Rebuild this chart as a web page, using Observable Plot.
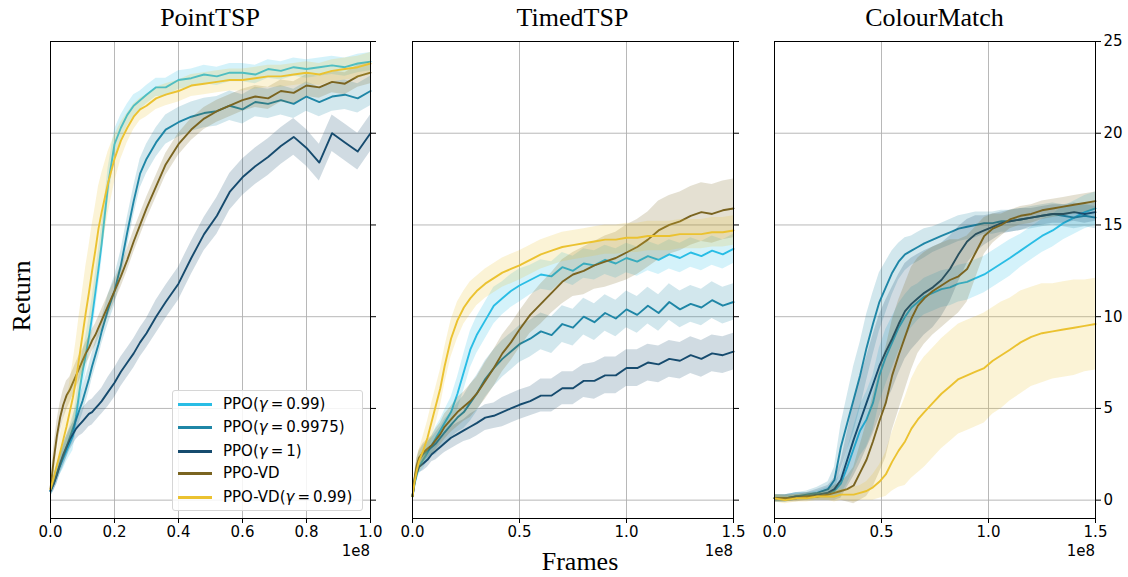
<!DOCTYPE html>
<html>
<head>
<meta charset="utf-8">
<script src="https://cdn.jsdelivr.net/npm/d3@7"></script>
<script src="https://cdn.jsdelivr.net/npm/@observablehq/plot@0.6"></script>
<style>
  html, body { margin: 0; padding: 0; background: white; }
  #wrap { position: relative; width: 1128px; height: 577px; overflow: hidden; background: white; }
  .panel { position: absolute; top: 0; }
  .ttl { position: absolute; font-family: "Liberation Serif", serif; font-size: 26px; line-height: 26px; white-space: nowrap; color: #000; }
  .e8 { position: absolute; font-family: "DejaVu Sans", sans-serif; font-size: 15px; line-height: 17px; color: #000; }
  #legend { position: absolute; left: 172px; top: 390px; width: 189px; height: 119px; border: 1px solid #d6d6d6; border-radius: 3px; background: rgba(255,255,255,0.85); font-family: "DejaVu Sans", sans-serif; font-size: 15px; }
  .row { position: absolute; left: 0; height: 18px; line-height: 18px; white-space: nowrap; }
  .sw { position: absolute; left: 5px; top: 8px; width: 34px; height: 3px; }
  .lt { position: absolute; left: 50px; top: 0; }
  .eq { padding: 0 3px; }
</style>
</head>
<body>
<div id="wrap"></div>
<script>
// ---------- data (x in units of 1e8 frames) ----------
const seriesNames = ["PPO(γ = 0.99)", "PPO(γ = 0.9975)", "PPO(γ = 1)", "PPO-VD", "PPO-VD(γ = 0.99)"];
const seriesColors = ["#29bde5", "#1f86a6", "#164b6e", "#7a6420", "#ebc230"];
const panelTitles = ["PointTSP", "TimedTSP", "ColourMatch"];
const xTicks1 = [0, 0.2, 0.4, 0.6, 0.8, 1.0];
const xTicks23 = [0, 0.5, 1.0, 1.5];
const yTicks = [0, 5, 10, 15, 20, 25];

// PointTSP
const x1 = [0,.01,.02,.03,.04,.05,.06,.07,.08,.09,.10,.11,.12,.13,.14,.15,.16,.18,.20,.22,.24,.26,.28,.30,.33,.36,.40,.44,.48,.52,.56,.60,.64,.68,.72,.76,.80,.84,.88,.92,.96,1.00];
const p1Cyan   = [0.5,1.0,1.5,1.9,2.3,2.7,3.1,3.5,4.6,5.9,7.0,7.9,8.9,10.0,11.3,12.6,14.0,17.2,19.4,20.3,21.0,21.5,21.8,22.1,22.5,22.5,22.9,23.0,23.2,23.1,23.3,23.3,23.2,23.5,23.4,23.6,23.5,23.6,23.7,23.6,23.8,23.9];
const p1Teal   = [0.5,0.9,1.4,1.9,2.4,2.9,3.4,3.9,4.4,4.9,5.4,6.0,6.6,7.3,7.9,8.5,9.2,10.4,11.4,12.8,14.6,16.3,17.8,18.6,19.5,20.2,20.6,20.9,21.1,21.2,21.5,21.3,21.7,21.6,21.8,21.6,22.0,21.7,22.0,22.1,21.9,22.3];
const p1Dark   = [0.5,0.9,1.4,2.0,2.5,2.9,3.3,3.6,3.9,4.1,4.3,4.5,4.7,4.8,5.0,5.2,5.4,5.9,6.4,7.0,7.5,8.0,8.6,9.1,10.0,10.8,11.8,13.2,14.5,15.5,16.8,17.6,18.2,18.7,19.3,19.8,19.2,18.4,20.0,19.5,19.0,20.0];
const p1Olive  = [0.6,2.2,3.5,4.5,5.2,5.7,6.0,6.4,6.8,7.2,7.6,8.0,8.3,8.7,9.0,9.4,9.8,10.6,11.4,12.2,13.1,14.1,15.0,15.9,17.1,18.3,19.4,20.2,20.8,21.2,21.5,21.8,22.0,21.9,22.3,22.2,22.6,22.5,22.8,22.7,23.1,23.3];
const p1Yellow = [0.6,1.2,1.9,2.6,3.3,4.0,4.8,5.6,6.6,7.8,9.0,10.2,11.3,12.5,13.6,14.8,15.7,17.3,18.6,19.6,20.3,20.9,21.3,21.5,21.9,22.1,22.3,22.6,22.7,22.8,22.9,22.9,23.0,23.1,23.1,23.2,23.3,23.2,23.4,23.5,23.6,23.8];
const p1CyanSd   = [0.3,0.4,0.5,0.5,0.6,0.6,0.7,0.8,0.9,1.0,1.0,1.0,1.0,1.0,1.0,1.0,1.0,0.9,0.8,0.7,0.6,0.6,0.5,0.5,0.5,0.5,0.5,0.5,0.5,0.5,0.5,0.5,0.5,0.5,0.5,0.5,0.5,0.5,0.5,0.5,0.5,0.5];
const p1TealSd   = [0.3,0.4,0.5,0.5,0.6,0.6,0.6,0.7,0.7,0.7,0.7,0.7,0.7,0.7,0.7,0.7,0.7,0.8,0.8,0.8,0.8,0.8,0.8,0.8,0.8,0.8,0.8,0.8,0.8,0.8,0.8,0.8,0.8,0.8,0.8,0.8,0.8,0.8,0.8,0.8,0.8,0.8];
const p1DarkSd   = [0.3,0.4,0.5,0.5,0.6,0.6,0.6,0.6,0.6,0.6,0.7,0.7,0.7,0.7,0.7,0.7,0.7,0.8,0.8,0.8,0.8,0.8,0.8,0.8,0.9,0.9,0.9,0.9,0.9,1.0,1.0,1.0,1.0,1.0,1.0,1.0,1.0,1.0,1.0,1.0,1.0,1.0];
const p1OliveSd  = [0.3,0.7,0.8,0.8,0.8,0.8,0.7,0.7,0.7,0.7,0.6,0.6,0.6,0.6,0.6,0.6,0.6,0.6,0.6,0.6,0.6,0.6,0.6,0.6,0.6,0.6,0.6,0.6,0.6,0.6,0.6,0.6,0.6,0.6,0.6,0.6,0.6,0.6,0.6,0.6,0.6,0.6];
const p1YellowSd = [0.3,0.5,0.7,0.9,1.1,1.3,1.6,1.9,2.1,2.3,2.4,2.5,2.5,2.5,2.4,2.3,2.1,1.7,1.3,1.0,0.8,0.7,0.6,0.6,0.6,0.6,0.6,0.6,0.6,0.6,0.6,0.6,0.6,0.6,0.6,0.6,0.6,0.6,0.6,0.6,0.6,0.6];

// TimedTSP
const x2 = [0,.01,.02,.03,.05,.07,.09,.11,.13,.15,.18,.21,.24,.27,.30,.34,.38,.42,.46,.50,.55,.60,.65,.70,.75,.80,.85,.90,.95,1.00,1.05,1.10,1.15,1.20,1.25,1.30,1.35,1.40,1.45,1.50];
const p2Cyan   = [0.2,0.9,1.4,1.8,2.2,2.6,3.0,3.4,3.8,4.2,4.8,5.8,7.0,8.2,9.0,9.8,10.6,11.0,11.4,11.7,12.0,12.3,12.2,12.7,12.5,12.9,12.8,13.1,12.9,13.2,13.0,13.3,13.1,13.4,13.2,13.5,13.3,13.6,13.4,13.7];
const p2Teal   = [0.2,1.1,1.8,2.2,2.5,2.7,2.9,3.1,3.4,3.7,4.1,4.5,4.8,5.3,5.8,6.6,7.2,7.7,8.1,8.5,8.8,9.2,9.0,9.6,9.4,10.0,9.7,10.2,9.9,10.4,10.1,10.6,10.2,10.8,10.4,10.7,10.5,10.9,10.6,10.8];
const p2Dark   = [0.2,1.0,1.5,1.8,2.0,2.2,2.5,2.7,2.9,3.1,3.4,3.6,3.8,4.0,4.2,4.5,4.6,4.8,5.0,5.2,5.4,5.7,5.7,6.1,6.1,6.5,6.5,6.8,6.8,7.2,7.2,7.5,7.4,7.7,7.6,7.9,7.7,8.0,7.9,8.1];
const p2Olive  = [0.2,1.2,1.9,2.3,2.6,2.8,3.0,3.3,3.6,4.0,4.4,4.8,5.1,5.4,5.8,6.5,7.2,8.0,8.6,9.3,10.1,10.7,11.3,11.9,12.3,12.5,12.8,13.0,13.2,13.5,13.8,14.2,14.7,15.0,15.2,15.5,15.7,15.6,15.8,15.9];
const p2Yellow = [0.2,1.0,1.6,2.1,2.7,3.4,4.3,5.2,6.1,7.3,8.8,9.8,10.5,11.0,11.4,11.8,12.1,12.4,12.6,12.8,13.1,13.4,13.6,13.8,13.9,14.0,14.1,14.2,14.2,14.3,14.3,14.4,14.4,14.4,14.5,14.5,14.5,14.6,14.6,14.7];
const p2CyanSd   = [0.1,0.3,0.4,0.4,0.5,0.5,0.5,0.6,0.6,0.7,0.8,0.9,1.0,1.0,1.0,1.0,1.0,0.9,0.9,0.9,0.8,0.8,0.8,0.8,0.8,0.8,0.8,0.8,0.8,0.8,0.8,0.8,0.8,0.8,0.8,0.8,0.8,0.8,0.8,0.8];
const p2TealSd   = [0.1,0.3,0.4,0.4,0.5,0.5,0.5,0.6,0.6,0.7,0.7,0.8,0.9,1.0,1.0,1.0,1.0,1.0,1.0,1.0,1.0,1.0,1.0,1.0,1.0,1.0,1.0,1.0,1.0,1.0,1.0,1.0,1.0,1.0,1.0,1.0,1.0,1.0,1.0,1.0];
const p2DarkSd   = [0.1,0.2,0.3,0.3,0.4,0.4,0.4,0.5,0.5,0.5,0.6,0.6,0.6,0.7,0.7,0.7,0.7,0.8,0.8,0.8,0.8,0.9,0.9,0.9,0.9,0.9,1.0,1.0,1.0,1.0,1.0,1.0,1.0,1.0,1.0,1.0,1.0,1.0,1.0,1.0];
const p2OliveSd  = [0.1,0.3,0.4,0.4,0.5,0.5,0.5,0.6,0.6,0.7,0.7,0.8,0.8,0.9,0.9,1.0,1.0,1.0,1.0,1.0,1.0,1.1,1.1,1.2,1.2,1.3,1.3,1.4,1.4,1.5,1.5,1.5,1.6,1.6,1.6,1.6,1.6,1.6,1.6,1.6];
const p2YellowSd = [0.1,0.3,0.5,0.6,0.8,0.9,1.0,1.0,1.0,1.0,1.0,1.0,0.9,0.9,0.8,0.8,0.8,0.8,0.8,0.8,0.8,0.8,0.8,0.8,0.8,0.8,0.8,0.8,0.8,0.8,0.8,0.8,0.8,0.8,0.8,0.8,0.8,0.8,0.8,0.8];

// ColourMatch
const x3 = [0,.05,.10,.15,.20,.25,.28,.31,.34,.37,.40,.43,.46,.49,.52,.55,.58,.61,.64,.67,.70,.74,.78,.82,.86,.90,.94,.98,1.02,1.06,1.10,1.15,1.20,1.25,1.30,1.35,1.40,1.45,1.50];
const p3Cyan   = [0.1,0.1,0.2,0.2,0.3,0.4,0.5,0.9,1.8,2.8,3.8,4.4,5.3,6.8,7.8,8.6,9.4,10.0,10.5,10.8,11.1,11.3,11.5,11.6,11.8,11.9,12.1,12.3,12.6,12.9,13.2,13.6,14.0,14.4,14.7,15.1,15.4,15.7,15.9];
const p3Teal   = [0.1,0.1,0.2,0.3,0.4,0.6,1.1,2.9,4.2,5.5,6.8,8.3,9.6,10.8,11.6,12.4,13.0,13.4,13.6,13.8,14.0,14.2,14.4,14.6,14.8,14.9,15.0,15.1,15.1,15.2,15.2,15.3,15.4,15.5,15.6,15.5,15.4,15.5,15.4];
const p3Dark   = [0.1,0.1,0.2,0.2,0.3,0.4,0.6,1.1,2.2,3.3,4.3,5.3,6.3,7.3,8.1,8.8,9.6,10.3,10.7,11.0,11.3,11.6,12.0,12.6,13.4,14.1,14.5,14.7,14.9,15.1,15.2,15.3,15.4,15.5,15.6,15.6,15.7,15.6,15.7];
const p3Olive  = [0.1,0.1,0.1,0.2,0.2,0.3,0.4,0.5,0.6,0.8,1.5,2.2,3.2,4.3,5.3,6.8,7.9,8.9,9.9,10.6,11.0,11.4,11.7,12.0,12.2,12.6,13.5,14.4,14.8,15.0,15.3,15.5,15.6,15.8,15.9,16.0,16.1,16.2,16.3];
const p3Yellow = [0.1,0.0,0.1,0.1,0.2,0.2,0.2,0.3,0.3,0.3,0.4,0.5,0.7,1.0,1.4,2.1,2.7,3.2,3.9,4.4,4.8,5.3,5.8,6.2,6.6,6.8,7.0,7.2,7.6,7.9,8.2,8.6,8.9,9.1,9.2,9.3,9.4,9.5,9.6];
const p3CyanSd   = [0.2,0.2,0.2,0.2,0.2,0.3,0.4,0.6,0.9,1.2,1.4,1.5,1.5,1.5,1.5,1.4,1.3,1.2,1.1,1.0,1.0,1.0,1.0,1.0,1.0,1.0,1.0,1.0,1.0,1.0,1.0,0.9,0.9,0.9,0.9,0.9,0.9,0.9,0.9];
const p3TealSd   = [0.2,0.2,0.2,0.2,0.3,0.4,0.7,1.2,1.5,1.8,1.8,1.8,1.7,1.6,1.4,1.2,1.0,0.9,0.8,0.8,0.8,0.7,0.7,0.7,0.7,0.7,0.7,0.6,0.6,0.6,0.6,0.6,0.6,0.6,0.6,0.6,0.6,0.6,0.6];
const p3DarkSd   = [0.2,0.2,0.2,0.2,0.3,0.4,0.6,1.0,1.5,2.0,2.3,2.5,2.7,2.8,2.8,2.8,2.7,2.6,2.5,2.4,2.3,2.2,2.0,1.8,1.5,1.2,1.0,0.8,0.7,0.6,0.6,0.6,0.5,0.5,0.5,0.5,0.5,0.5,0.5];
const p3OliveSd  = [0.2,0.2,0.2,0.2,0.2,0.3,0.4,0.5,0.7,1.0,1.5,2.0,2.5,2.8,3.0,3.0,3.0,2.9,2.8,2.6,2.5,2.4,2.3,2.2,2.0,1.8,1.4,1.0,0.8,0.6,0.5,0.5,0.5,0.5,0.5,0.5,0.5,0.5,0.5];
const p3YellowSd = [0.2,0.2,0.2,0.2,0.2,0.2,0.3,0.3,0.3,0.4,0.4,0.5,0.7,0.9,1.2,1.6,2.0,2.4,2.7,2.9,3.0,3.0,3.0,3.0,3.0,3.0,3.0,3.0,2.9,2.9,2.8,2.8,2.7,2.7,2.6,2.6,2.6,2.5,2.5];

// ---------- build tables ----------
function table(x, means, sds) {
  const rows = [];
  means.forEach((m, k) => {
    const n = Math.min(x.length, m.length, sds[k].length);
    for (let i = 0; i < n; i++) rows.push({s: seriesNames[k], x: x[i], y: m[i], lo: m[i] - sds[k][i], hi: m[i] + sds[k][i]});
  });
  return rows;
}
const panels = [
  {title: panelTitles[0], rows: table(x1, [p1Cyan, p1Teal, p1Dark, p1Olive, p1Yellow], [p1CyanSd, p1TealSd, p1DarkSd, p1OliveSd, p1YellowSd]),
   xmax: 1.0, ticks: xTicks1, left: 0, width: 395, ml: 50, mr: 25, ylabels: false},
  {title: panelTitles[1], rows: table(x2, [p2Cyan, p2Teal, p2Dark, p2Olive, p2Yellow], [p2CyanSd, p2TealSd, p2DarkSd, p2OliveSd, p2YellowSd]),
   xmax: 1.5, ticks: xTicks23, left: 395, width: 365, ml: 17, mr: 27, ylabels: false},
  {title: panelTitles[2], rows: table(x3, [p3Cyan, p3Teal, p3Dark, p3Olive, p3Yellow], [p3CyanSd, p3TealSd, p3DarkSd, p3OliveSd, p3YellowSd]),
   xmax: 1.5, ticks: xTicks23, left: 760, width: 368, ml: 14, mr: 33, ylabels: true}
];

const wrap = document.getElementById("wrap");
const fmt = d3.format(".1f");

panels.forEach(p => {
  const marks = [
    Plot.gridX(p.ticks, {stroke: "#b0b0b0", strokeOpacity: 1, strokeWidth: 0.9}),
    Plot.gridY(yTicks, {stroke: "#b0b0b0", strokeOpacity: 1, strokeWidth: 0.9})
  ];
  seriesNames.forEach((name, k) => {
    marks.push(Plot.areaY(p.rows, {filter: d => d.s === name, x: "x", y1: "lo", y2: "hi", fill: seriesColors[k], fillOpacity: 0.2, curve: "linear"}));
    marks.push(Plot.lineY(p.rows, {filter: d => d.s === name, x: "x", y: "y", stroke: seriesColors[k], strokeWidth: 1.9, curve: "linear"}));
  });
  marks.push(Plot.frame({stroke: "#000", strokeWidth: 1}));
  marks.push(Plot.axisX(p.ticks, {tickSize: 5, tickPadding: 3, tickFormat: fmt, fontSize: 15, stroke: "#000"}));
  marks.push(Plot.axisY(yTicks, {anchor: "right", tickSize: 5, tickPadding: 3, tickFormat: p.ylabels ? (d => String(d)) : (() => ""), fontSize: 15, stroke: "#000"}));
  const svg = Plot.plot({
    width: p.width, height: 577,
    marginLeft: p.ml, marginRight: p.mr, marginTop: 41, marginBottom: 59,
    x: {domain: [0, p.xmax], label: null},
    y: {domain: [-1, 25], label: null},
    style: {fontFamily: "DejaVu Sans, sans-serif", fontSize: "15px", background: "transparent", color: "#000", overflow: "visible"},
    marks
  });
  svg.classList.add("panel");
  svg.style.left = p.left + "px";
  svg.style.maxWidth = "none";
  wrap.appendChild(svg);

  const cx = p.left + p.ml + (p.width - p.ml - p.mr) / 2;
  const t = document.createElement("div");
  t.className = "ttl";
  t.textContent = p.title;
  t.style.top = "5px";
  t.style.left = cx + "px";
  t.style.transform = "translateX(-50%)";
  wrap.appendChild(t);

  const e = document.createElement("div");
  e.className = "e8";
  e.textContent = "1e8";
  e.style.top = "543px";
  e.style.right = (1128 - (p.left + p.width - p.mr)) + "px";
  wrap.appendChild(e);
});

// axis labels
const xl = document.createElement("div");
xl.className = "ttl"; xl.textContent = "Frames";
xl.style.left = "580px"; xl.style.top = "549px"; xl.style.transform = "translateX(-50%)";
wrap.appendChild(xl);
const yl = document.createElement("div");
yl.className = "ttl"; yl.textContent = "Return";
yl.style.left = "22px"; yl.style.top = "296px"; yl.style.transform = "translate(-50%,-50%) rotate(-90deg)";
wrap.appendChild(yl);

// legend
const lg = document.createElement("div");
lg.id = "legend";
const rowTops = [4, 27, 51, 73, 97];
seriesNames.forEach((name, k) => {
  const r = document.createElement("div");
  r.className = "row";
  r.style.top = rowTops[k] + "px";
  const sw = document.createElement("div");
  sw.className = "sw"; sw.style.background = seriesColors[k];
  const tx = document.createElement("div");
  tx.className = "lt";
  const m = name.match(/^(.*)\(γ = (.*)\)$/);
  if (m) {
    tx.append(m[1] + "(");
    const g = document.createElement("i"); g.textContent = "γ"; tx.append(g);
    const eq = document.createElement("span"); eq.className = "eq"; eq.textContent = "="; tx.append(eq);
    tx.append(m[2] + ")");
  } else {
    tx.append(name);
  }
  r.append(sw, tx);
  lg.appendChild(r);
});
wrap.appendChild(lg);
</script>
</body>
</html>
